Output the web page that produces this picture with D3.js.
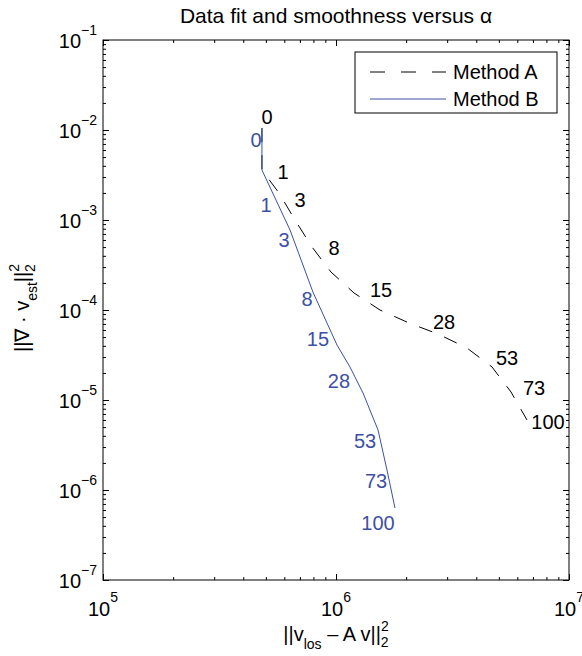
<!DOCTYPE html>
<html>
<head>
<meta charset="utf-8">
<script src="https://cdn.jsdelivr.net/npm/d3@7/dist/d3.min.js"></script>
<style>
body { margin: 0; background: #fff; }
text { font-family: "Liberation Sans", Arial, Helvetica, sans-serif; fill: #000; }
</style>
</head>
<body>
<svg width="582" height="656"></svg>
<script>
// curve samples
var methodAX = [4.81e5, 4.81e5, 5.69e5, 6.67e5, 7.89e5, 9.52e5, 1.195e6, 1.545e6, 2.058e6, 2.741e6, 3.649e6, 4.672e6, 5.638e6, 6.602e6];
var methodAY = [1.05e-2, 3.59e-3, 2.0e-3, 1.0e-3, 5.01e-4, 2.64e-4, 1.545e-4, 1.0e-4, 7.17e-5, 5.41e-5, 3.78e-5, 2.33e-5, 1.227e-5, 6.0e-6];
var methodBX = [4.81e5, 4.81e5, 6.35e5, 7.96e5, 1.01e6, 1.148e6, 1.306e6, 1.515e6, 1.655e6, 1.791e6];
var methodBY = [1.05e-2, 3.59e-3, 7.74e-4, 1.585e-4, 4.08e-5, 2.33e-5, 1.196e-5, 4.64e-6, 1.668e-6, 6.31e-7];

// alpha labels and where they sit
var alphas = ["0", "1", "3", "8", "15", "28", "53", "73", "100"];
var labelAX = [5.06e5, 5.92e5, 7.01e5, 9.80e5, 1.561e6, 2.908e6, 5.42e6, 7.08e6, 8.13e6];
var labelAY = [1.395e-2, 3.41e-3, 1.668e-3, 4.89e-4, 1.668e-4, 7.35e-5, 2.93e-5, 1.36e-5, 5.69e-6];
var labelBX = [4.54e5, 5.01e5, 5.98e5, 7.51e5, 8.37e5, 1.03e6, 1.332e6, 1.485e6, 1.515e6];
var labelBY = [7.74e-3, 1.468e-3, 5.99e-4, 1.325e-4, 4.76e-5, 1.626e-5, 3.5e-6, 1.259e-6, 4.3e-7];

var xTicks = [1e5, 1e6, 1e7];
var yTicks = [1e-7, 1e-6, 1e-5, 1e-4, 1e-3, 1e-2, 1e-1];

var blue = "#3d4fa5";

var svg = d3.select("svg"),
    margin = {top: 40, right: 13, bottom: 76, left: 103},
    width = +svg.attr("width") - margin.left - margin.right,
    height = +svg.attr("height") - margin.top - margin.bottom;

var g = svg.append("g").attr("transform", "translate(" + margin.left + "," + margin.top + ")");

var x = d3.scaleLog().domain([1e5, 1e7]).range([0, width]);
var y = d3.scaleLog().domain([1e-7, 1e-1]).range([height, 0]);

var xMinor = x.ticks().filter(function(d) { return xTicks.indexOf(d) < 0; });
var yMinor = y.ticks().filter(function(d) { return yTicks.map(function(t) { return t.toExponential(); }).indexOf(d.toExponential()) < 0; });

function ticks(axis, values, size, tr) {
  g.append("g")
      .attr("transform", tr)
      .call(axis.tickValues(values).tickSize(size).tickFormat(""))
    .call(function(s) {
      s.select(".domain").remove();
      s.selectAll("line").attr("stroke", "#000").attr("stroke-width", 1);
    });
}

ticks(d3.axisBottom(x), xTicks, -6, "translate(0," + height + ")");
ticks(d3.axisBottom(x), xMinor, -3, "translate(0," + height + ")");
ticks(d3.axisTop(x), xTicks, -6, "translate(0,0)");
ticks(d3.axisTop(x), xMinor, -3, "translate(0,0)");
ticks(d3.axisLeft(y), yTicks, -6, "translate(0,0)");
ticks(d3.axisLeft(y), yMinor, -3, "translate(0,0)");
ticks(d3.axisRight(y), yTicks, -6, "translate(" + width + ",0)");
ticks(d3.axisRight(y), yMinor, -3, "translate(" + width + ",0)");

g.append("rect")
    .attr("width", width)
    .attr("height", height)
    .attr("fill", "none")
    .attr("stroke", "#000")
    .attr("stroke-width", 1);

// tick labels as 10^n
var xl = g.selectAll(".xlab")
  .data(xTicks)
  .enter().append("text")
    .attr("class", "xlab")
    .attr("x", function(d) { return x(d); })
    .attr("y", height + 36)
    .attr("text-anchor", "middle")
    .style("font-size", "20px");
xl.append("tspan").text("10");
xl.append("tspan").attr("dy", -14).style("font-size", "14px")
    .text(function(d) { return Math.round(Math.log10(d)); });

var yl = g.selectAll(".ylab")
  .data(yTicks)
  .enter().append("text")
    .attr("class", "ylab")
    .attr("x", -6)
    .attr("y", function(d) { return y(d) + 8; })
    .attr("text-anchor", "end")
    .style("font-size", "20px");
yl.append("tspan").text("10");
yl.append("tspan").attr("dy", -13).style("font-size", "14px")
    .text(function(d) { return "\u2212" + Math.round(-Math.log10(d)); });

// curves
var line = d3.line()
    .x(function(d) { return x(d[0]); })
    .y(function(d) { return y(d[1]); });

g.append("path")
    .datum(d3.zip(methodAX, methodAY))
    .attr("fill", "none")
    .attr("stroke", "#000")
    .attr("stroke-width", 1)
    .attr("stroke-dasharray", "14,13")
    .attr("d", line);

g.append("path")
    .datum(d3.zip(methodBX, methodBY))
    .attr("fill", "none")
    .attr("stroke", blue)
    .attr("stroke-width", 1)
    .attr("d", line);

g.selectAll(".la")
  .data(d3.zip(alphas, labelAX, labelAY))
  .enter().append("text")
    .attr("x", function(d) { return x(d[1]); })
    .attr("y", function(d) { return y(d[2]); })
    .attr("dy", "0.36em")
    .attr("text-anchor", "middle")
    .style("font-size", "20px")
    .text(function(d) { return d[0]; });

g.selectAll(".lb")
  .data(d3.zip(alphas, labelBX, labelBY))
  .enter().append("text")
    .attr("x", function(d) { return x(d[1]); })
    .attr("y", function(d) { return y(d[2]); })
    .attr("dy", "0.36em")
    .attr("text-anchor", "middle")
    .style("font-size", "20px")
    .style("fill", blue)
    .text(function(d) { return d[0]; });

// legend
var leg = svg.append("g").attr("transform", "translate(355,52)");
leg.append("rect")
    .attr("width", 202)
    .attr("height", 61)
    .attr("fill", "#fff")
    .attr("stroke", "#000")
    .attr("stroke-width", 1);
leg.append("line")
    .attr("x1", 15).attr("x2", 91).attr("y1", 20).attr("y2", 20)
    .attr("stroke", "#000").attr("stroke-dasharray", "15,16");
leg.append("line")
    .attr("x1", 15).attr("x2", 91).attr("y1", 47).attr("y2", 47)
    .attr("stroke", blue);
leg.append("text").attr("x", 98).attr("y", 27).style("font-size", "20px").text("Method A");
leg.append("text").attr("x", 98).attr("y", 54).style("font-size", "20px").text("Method B");

// title and axis labels
svg.append("text")
    .attr("x", margin.left + width / 2)
    .attr("y", 23)
    .attr("text-anchor", "middle")
    .style("font-size", "21px")
    .text("Data fit and smoothness versus \u03b1");

var xt = svg.append("text")
    .attr("x", margin.left + width / 2)
    .attr("y", 641)
    .attr("text-anchor", "middle")
    .style("font-size", "20px");
xt.append("tspan").text("||v");
xt.append("tspan").attr("dy", 8).style("font-size", "14px").text("los");
xt.append("tspan").attr("dy", -8).text(" \u2013 A v||");
xt.append("tspan").attr("dy", -10).style("font-size", "14px").text("2");
xt.append("tspan").attr("dx", -8).attr("dy", 16).style("font-size", "14px").text("2");

var yt = svg.append("text")
    .attr("transform", "translate(29,308) rotate(-90)")
    .attr("text-anchor", "middle")
    .style("font-size", "20px");
yt.append("tspan").text("||\u2207 \u00b7 v");
yt.append("tspan").attr("dy", 8).style("font-size", "14px").text("est");
yt.append("tspan").attr("dy", -8).text("||");
yt.append("tspan").attr("dy", -10).style("font-size", "14px").text("2");
yt.append("tspan").attr("dx", -8).attr("dy", 16).style("font-size", "14px").text("2");
</script>
</body>
</html>
